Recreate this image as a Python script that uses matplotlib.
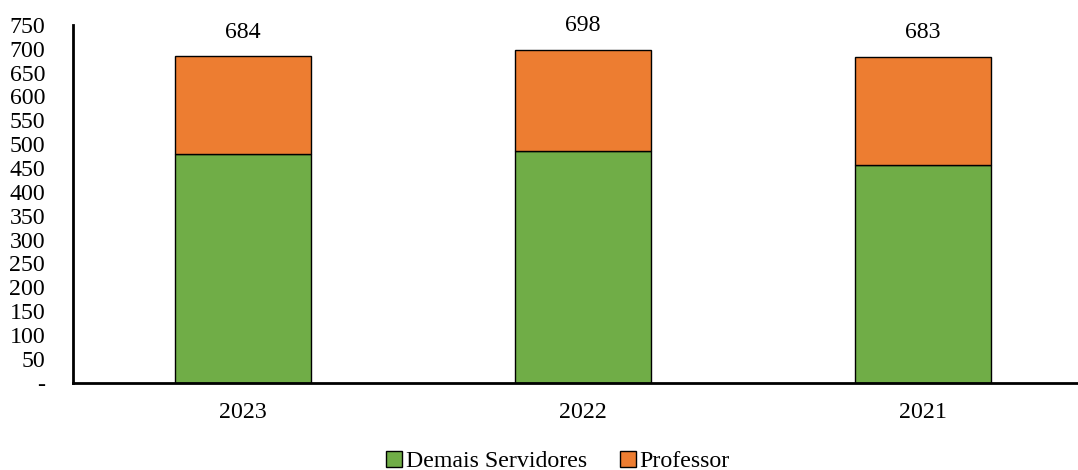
import numpy as np
import matplotlib.pyplot as plt

# ------------------------------------------------------------
# Data
# ------------------------------------------------------------
years = ["2023", "2022", "2021"]
demais = [479, 486, 457]
professor = [205, 212, 226]
totals = [684, 698, 683]
yticks = list(range(0, 751, 50))
ytick_labels = ["-"] + [str(v) for v in yticks[1:]]

plt.rcParams["font.family"] = ["Liberation Serif", "DejaVu Serif"]
FS = 17.2

fig = plt.figure(figsize=(10.78, 4.70), dpi=100)
W, H = 1078, 470
ax = fig.add_axes([73 / W, (H - 382.5) / H, (1092.5 - 73) / W, (382.5 - 25) / H])

x = np.arange(len(years))
ax.bar(x, demais, width=0.4, color="#70AD47", edgecolor="black", linewidth=1,
       label="Demais Servidores")
ax.bar(x, professor, width=0.4, bottom=demais, color="#ED7D31", edgecolor="black",
       linewidth=1, label="Professor")

for xi, t in zip(x, totals):
    ax.annotate(str(t), (xi, t), xytext=(0, 24), textcoords="offset pixels",
                ha="center", va="center", fontsize=FS)

ax.set_xlim(-0.5, 2.5)
ax.set_ylim(0, 750)
ax.set_xticks(x)
ax.set_xticklabels(years, fontsize=FS)
ax.set_yticks(yticks)
ax.set_yticklabels(ytick_labels, fontsize=FS)
ax.tick_params(axis="y", length=0, pad=20)
ax.tick_params(axis="x", length=0, pad=14)

for s in ["top", "right"]:
    ax.spines[s].set_visible(False)
for s in ["left", "bottom"]:
    ax.spines[s].set_linewidth(2)
    ax.spines[s].set_color("black")

fig.legend(loc="lower center", bbox_to_anchor=(558 / W, -0.05), ncol=2,
           frameon=False, fontsize=FS, handlelength=0.65, handleheight=0.65,
           handletextpad=0.15, columnspacing=1.4)

fig.savefig("out.png", dpi=100)
